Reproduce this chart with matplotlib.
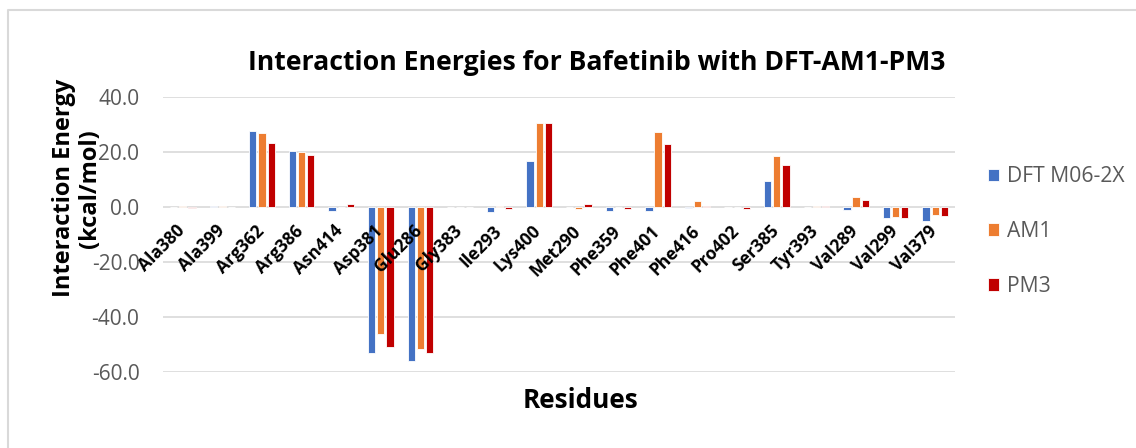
import matplotlib
matplotlib.use("Agg")
import matplotlib.pyplot as plt
from matplotlib.lines import Line2D
import numpy as np

residues = ["Ala380", "Ala399", "Arg362", "Arg386", "Asn414", "Asp381", "Glu286",
            "Gly383", "Ile293", "Lys400", "Met290", "Phe359", "Phe401", "Phe416",
            "Pro402", "Ser385", "Tyr393", "Val289", "Val299", "Val379"]
dft = [0.1, 0.5, 27.7, 20.5, -1.4, -53.2, -56.0, 0.0, -1.7, 16.7,
       0.0, -1.6, -1.5, -0.4, -0.1, 9.6, 0.0, -1.2, -3.9, -5.2]
am1 = [0.4, 0.5, 26.8, 19.9, 0.0, -46.0, -51.8, 0.0, 0.3, 30.4,
       -0.8, 0.0, 27.3, 2.3, 0.0, 18.7, 0.3, 3.5, -3.5, -3.0]
pm3 = [-0.5, 0.0, 23.2, 18.9, 1.0, -50.8, -53.0, 0.0, -0.6, 30.5,
       1.0, -0.8, 22.8, 0.5, -0.6, 15.2, 0.3, 2.4, -4.1, -3.2]
series_names = ["DFT M06-2X", "AM1", "PM3"]
yticks = [-60, -40, -20, 0, 20, 40]

plt.rcParams["font.family"] = ["Open Sans", "DejaVu Sans"]

W, H = 1136, 448
fig = plt.figure(figsize=(W / 100, H / 100), dpi=100)

# chart-area frame: top and left edges (the rest runs off the canvas)
frame_x, frame_y = 7.5 / W, 1 - 10.5 / H
fig.add_artist(Line2D([frame_x, frame_x, 1.0], [0.0, frame_y, frame_y],
                      transform=fig.transFigure, color="#d9d9d9", linewidth=1.5))

ax = fig.add_axes([0.1435, 0.1696, 0.6972, 0.6139])
x = np.arange(len(residues))
w = 0.185
off = 0.232
colors = ["#4472C4", "#ED7D31", "#C00000"]
for i, (vals, c, name) in enumerate(zip([dft, am1, pm3], colors, series_names)):
    ax.bar(x + (i - 1) * off, vals, width=w, color=c, edgecolor="white",
           linewidth=0.6, label=name, zorder=3)

ax.set_xlim(-0.5, len(residues) - 0.5)
ax.set_ylim(-60, 40)
ax.set_yticks(yticks)
ax.set_yticklabels([f"{v:.1f}" for v in yticks], color="#595959", fontsize=15)
ax.yaxis.grid(True, color="#d9d9d9", linewidth=1.2, zorder=0)
ax.tick_params(axis="both", length=0)
for s in ax.spines.values():
    s.set_visible(False)
ax.tick_params(axis="y", pad=17)

# category labels sit just below the zero line
ax.set_xticks([])
for xi, name in zip(x, residues):
    ax.text(xi + 0.07, -9.0, name, rotation=45, ha="right", va="baseline",
            rotation_mode="anchor", fontsize=12.5, fontweight="bold", color="black",
            zorder=4)

fig.text(0.068, 0.58, "Interaction Energy\n(kcal/mol)", rotation=90, ha="center",
         va="center", fontsize=17, fontweight="bold", color="black",
         linespacing=1.1, multialignment="center")
fig.text(0.5106, 0.105, "Residues", ha="center", va="center", fontsize=18.8,
         fontweight="bold", color="black")
fig.text(0.5255, 0.859, "Interaction Energies for Bafetinib with DFT-AM1-PM3", ha="center",
         va="center", fontsize=19.2, fontweight="bold", color="black")

handles, labels = ax.get_legend_handles_labels()
leg = fig.legend(handles, labels, loc="center left", bbox_to_anchor=(0.862, 0.483),
                 frameon=False, fontsize=15.2, labelspacing=1.6, handlelength=0.55,
                 handleheight=0.55, handletextpad=0.37, borderaxespad=0)
for t in leg.get_texts():
    t.set_color("#595959")

fig.savefig("out.png", dpi=100)
